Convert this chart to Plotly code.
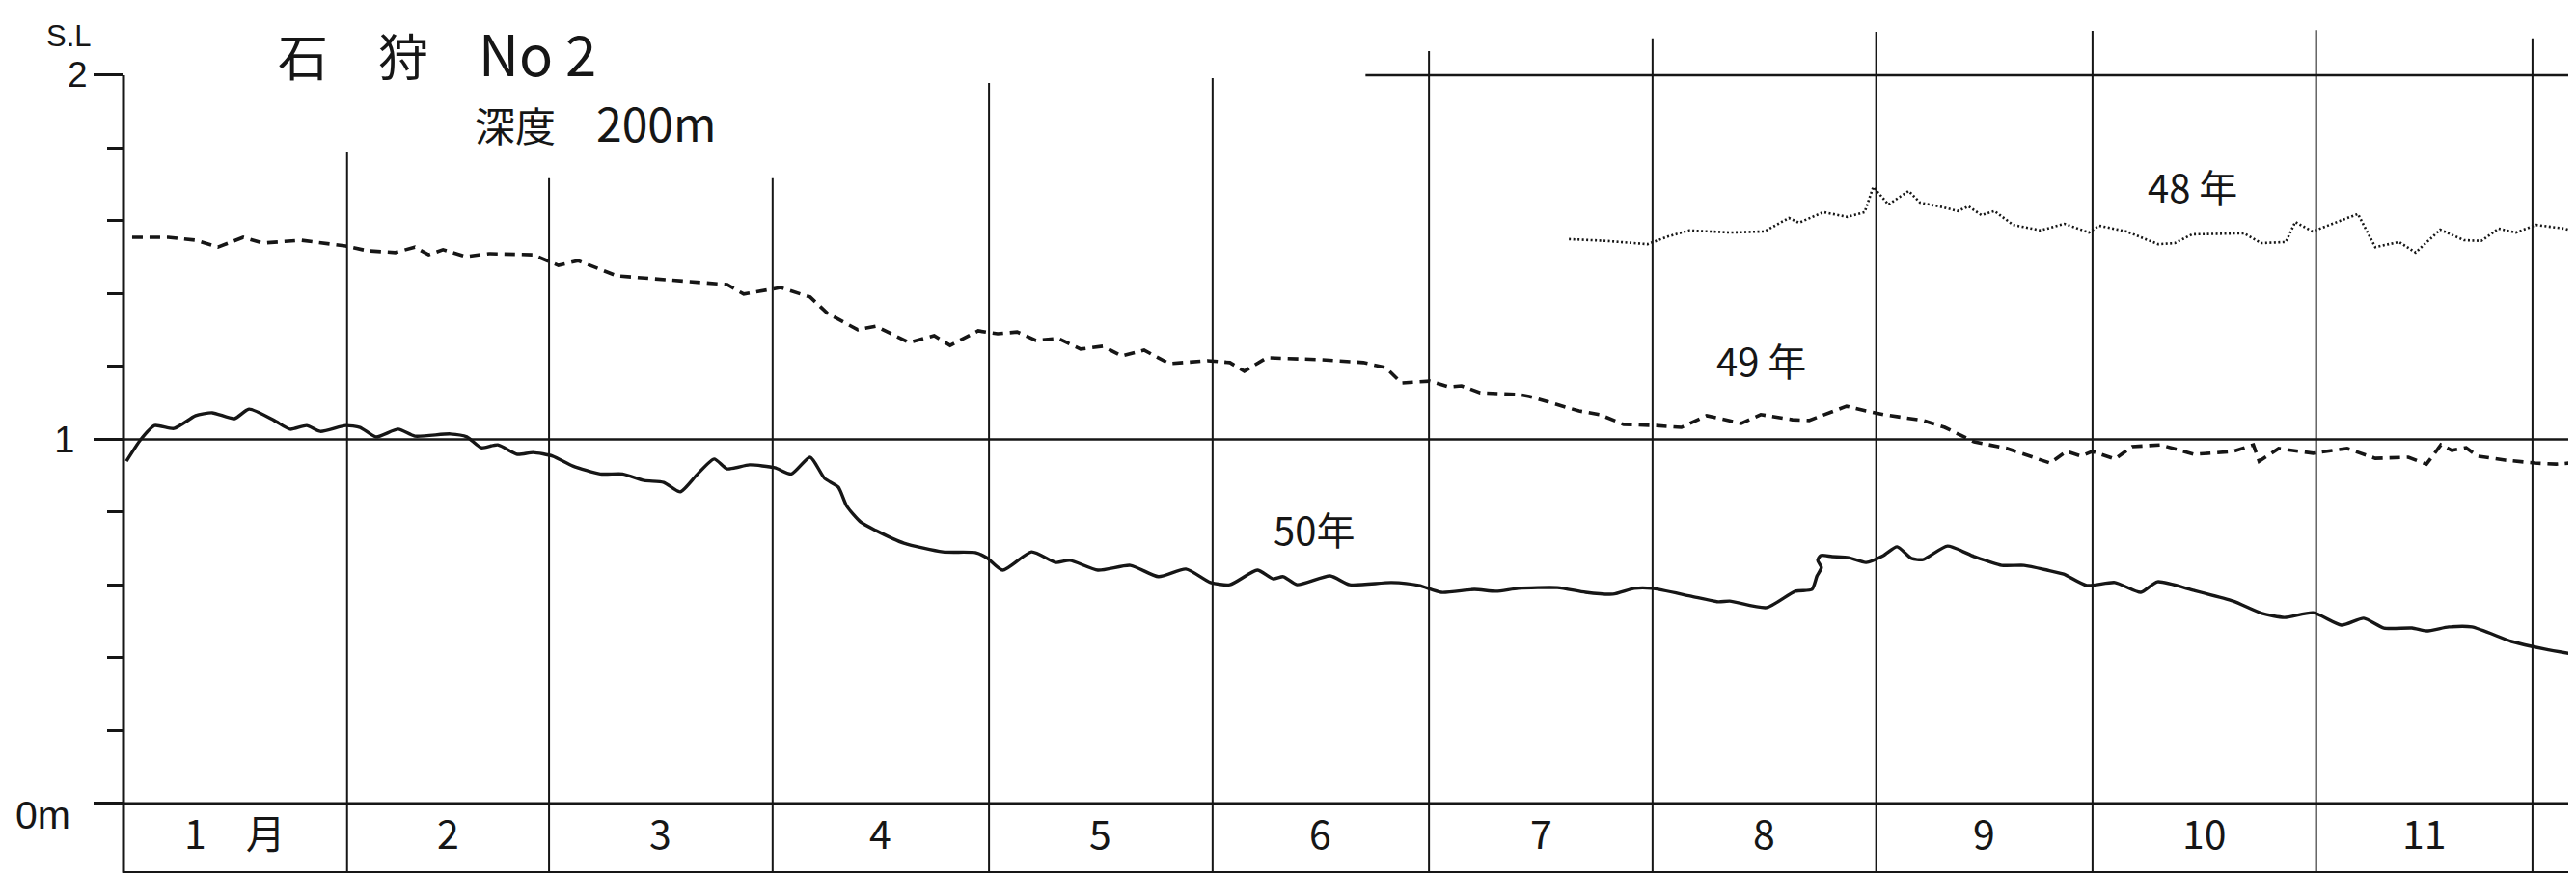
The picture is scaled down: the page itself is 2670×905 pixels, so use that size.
import plotly.graph_objects as go

# ---------------- data ----------------
month_labels = ["1　月", "2", "3", "4", "5", "6", "7", "8", "9", "10", "11", "12"]
month_start_day = [0, 31, 59, 90, 120, 151, 181, 212, 243, 273, 304, 334, 365]
# upper ends of the hand-drawn month dividers (in S.L metres)
month_line_top = [1.788, 1.717, 1.717, 1.979, 1.992, 2.066, 2.101, 2.119, 2.122, 2.124, 2.101]

# 50年 (solid)
day_50 = [0.4, 2.4, 4.3, 7.0, 10.0, 12.3, 15.4, 17.4, 20.9, 23.1, 25.4, 27.3, 30.8, 32.8, 35.0,
          38.1, 40.4, 45.3, 47.6, 49.6, 51.9, 54.6, 56.8, 59.5, 62.3, 66.1, 69.2, 72.2, 74.9,
          77.2, 79.6, 81.9, 83.7, 86.8, 90.3, 92.6, 95.2, 97.2, 99.1, 100.3, 102.2, 104.3,
          108.2, 113.6, 118.1, 119.7, 121.9, 125.9, 129.3, 131.2, 135.1, 139.6, 143.5, 147.3,
          150.7, 153.4, 157.2, 159.4, 160.8, 162.7, 167.3, 170.0, 175.8, 179.6, 182.7, 187.3,
          190.3, 193.4, 198.8, 202.7, 206.5, 209.5, 211.9, 217.2, 221.1, 222.7, 227.8, 231.8,
          234.1, 234.8, 235.4, 234.9, 235.3, 236.9, 239.2, 241.6, 244.0, 245.9, 247.9, 249.5,
          252.9, 256.6, 260.4, 263.5, 266.7, 269.0, 272.2, 276.1, 279.7, 282.0, 287.1, 292.5,
          296.5, 299.6, 303.6, 307.5, 310.6, 313.4, 317.3, 319.3, 322.4, 325.6, 331.1, 335.7,
          341.1]
sl_50 = [0.940, 1.000, 1.038, 1.030, 1.065, 1.073, 1.057, 1.083, 1.052, 1.028, 1.038, 1.022,
         1.038, 1.033, 1.007, 1.028, 1.009, 1.015, 1.007, 0.977, 0.985, 0.959, 0.964, 0.954,
         0.927, 0.905, 0.905, 0.887, 0.882, 0.856, 0.905, 0.946, 0.919, 0.930, 0.922, 0.905,
         0.951, 0.893, 0.869, 0.816, 0.773, 0.750,
         0.715, 0.691, 0.689, 0.675, 0.641, 0.691, 0.662, 0.668, 0.641, 0.654, 0.623, 0.644,
         0.607, 0.601, 0.641, 0.617, 0.623, 0.601, 0.625, 0.601, 0.607, 0.599, 0.580, 0.588,
         0.583, 0.591, 0.593, 0.580, 0.575, 0.591, 0.591, 0.570, 0.554, 0.556, 0.538, 0.583,
         0.588, 0.625, 0.648, 0.668, 0.681, 0.678, 0.675, 0.662, 0.681, 0.705, 0.673, 0.670,
         0.707, 0.678, 0.654, 0.654, 0.641, 0.630, 0.599, 0.607, 0.580, 0.609, 0.585, 0.556,
         0.522, 0.511, 0.524, 0.490, 0.509, 0.482, 0.482, 0.474, 0.485, 0.485, 0.445, 0.424,
         0.405]

# 49年 (dashed)
day_49 = [1.2, 6.2, 10.0, 13.1, 16.6, 19.3, 24.6, 30.8, 33.8, 37.7, 40.4, 42.3, 44.3, 47.4,
          50.7, 56.8, 60.3, 63.0, 68.4, 76.1, 83.7, 86.0, 91.1, 95.2, 97.6, 101.8, 104.3,
          108.9, 112.4, 114.6, 118.5, 121.2, 123.9, 126.5, 129.6, 132.7, 135.8, 138.4, 141.5,
          145.0, 150.3, 153.4, 155.4, 158.5, 165.7, 171.9, 175.0, 177.2, 181.1, 183.8, 185.5,
          188.1, 193.6, 194.9, 201.8, 204.7, 208.0, 212.5, 216.0, 219.5, 224.3, 227.0, 231.4,
          233.7, 238.9, 241.6, 244.0, 249.5, 252.5, 256.6, 261.2, 267.1, 269.4, 271.4, 273.0,
          276.1, 278.5, 282.4, 287.1, 292.5, 294.5, 295.3, 296.1, 298.8, 303.6, 308.3, 312.2,
          316.8, 319.3, 321.3, 322.8, 324.8, 326.4, 330.2, 334.3, 337.3, 341.1]
sl_49 = [1.555, 1.555, 1.547, 1.528, 1.555, 1.539, 1.547, 1.531, 1.518, 1.513, 1.528, 1.507,
         1.521, 1.502, 1.510, 1.507, 1.478, 1.491, 1.449, 1.436, 1.425, 1.399, 1.417, 1.391,
         1.346, 1.301, 1.311, 1.266, 1.285, 1.258, 1.298, 1.290, 1.295, 1.272, 1.277, 1.248,
         1.256, 1.229, 1.245, 1.208, 1.216, 1.211, 1.187, 1.224, 1.219, 1.211, 1.197, 1.155,
         1.160, 1.144, 1.147, 1.128, 1.123, 1.118, 1.078, 1.068, 1.041, 1.038, 1.033, 1.065,
         1.044, 1.068, 1.054, 1.052, 1.091, 1.078, 1.068, 1.052, 1.033, 0.993, 0.975, 0.935,
         0.967, 0.954, 0.967, 0.946, 0.980, 0.985, 0.959, 0.967, 0.980, 0.985, 0.940, 0.975,
         0.962, 0.975, 0.948, 0.951, 0.932, 0.985, 0.970, 0.977, 0.954, 0.943, 0.935, 0.932,
         0.938]

# 48年 (dotted)
day_48 = [200.4, 205.6, 211.3, 214.1, 217.1, 222.8, 227.5, 230.9, 232.3, 235.7, 239.0, 241.4,
          242.6, 244.7, 247.5, 249.1, 252.4, 254.3, 255.8, 257.6, 259.4, 262.0, 265.8, 269.1,
          272.5, 273.9, 277.7, 282.1, 284.4, 286.8, 294.0, 296.4, 299.8, 301.1, 303.5, 309.8,
          312.2, 315.5, 317.8, 321.2, 324.5, 326.9, 329.3, 331.7, 334.5, 338.4, 341.1]
sl_48 = [1.550, 1.545, 1.536, 1.557, 1.574, 1.568, 1.571, 1.608, 1.595, 1.624, 1.611, 1.624,
         1.693, 1.645, 1.682, 1.650, 1.637, 1.627, 1.640, 1.616, 1.627, 1.589, 1.574, 1.592,
         1.568, 1.587, 1.571, 1.536, 1.539, 1.563, 1.566, 1.539, 1.542, 1.597, 1.571, 1.619,
         1.528, 1.542, 1.513, 1.576, 1.547, 1.545, 1.579, 1.568, 1.589, 1.579, 1.563]

series_names = ["50年", "49 年", "48 年"]

y_tick_vals = [0, 1, 2]
y_tick_text = ["", "1", ""]
y_minor_vals = [0.2, 0.4, 0.6, 0.8, 1.2, 1.4, 1.6, 1.8]

# ---------------- figure ----------------
W, H = 2670, 905
ML, MR, MT, MB = 120, 0, 0, 5
PW, PH = W - ML - MR, H - MT - MB
X_RANGE = [0, 341.1]
Y_RANGE = [-0.1987, 2.1854]
FONT = "Noto Sans CJK JP"
LATIN = "Liberation Sans"
INK = "#161616"
CJK_SHIFT = 12  # Noto CJK glyphs sit low in their box


def px(xp):
    return (xp - ML) / PW


def py(yp):
    return 1 - (yp - MT) / PH


fig = go.Figure()
fig.add_trace(go.Scatter(x=day_50, y=sl_50, mode="lines", name=series_names[0],
                         line=dict(color=INK, width=3.4, shape="spline", smoothing=0.6)))
fig.add_trace(go.Scatter(x=day_49, y=sl_49, mode="lines", name=series_names[1],
                         line=dict(color=INK, width=3.6, dash="11px,7px")))
fig.add_trace(go.Scatter(x=day_48, y=sl_48, mode="lines", name=series_names[2],
                         line=dict(color=INK, width=2.6, dash="2px,2.5px")))

shapes = []
# month dividers
for d, top in zip(month_start_day[1:12], month_line_top):
    shapes.append(dict(type="line", xref="x", yref="y", x0=d, x1=d, y0=-0.19, y1=top,
                       line=dict(color=INK, width=2)))
# y axis line
shapes.append(dict(type="line", xref="x domain", yref="y", x0=0, x1=0, y0=-0.19, y1=2.0,
                   line=dict(color=INK, width=3)))
# reference levels
shapes.append(dict(type="line", xref="paper", yref="y", x0=px(92), x1=1, y0=0, y1=0,
                   line=dict(color=INK, width=3.2)))
shapes.append(dict(type="line", xref="paper", yref="y", x0=px(92), x1=1, y0=1, y1=1,
                   line=dict(color=INK, width=2.4)))
shapes.append(dict(type="line", xref="x", yref="y", x0=172.2, x1=X_RANGE[1], y0=2, y1=2,
                   line=dict(color=INK, width=2.6)))
# bottom of month label row
shapes.append(dict(type="line", xref="paper", yref="y", x0=0, x1=1, y0=-0.19, y1=-0.19,
                   line=dict(color=INK, width=3.2)))

annotations = []
# month labels
for i, lab in enumerate(month_labels):
    mid = (month_start_day[i] + month_start_day[i + 1]) / 2
    if mid > X_RANGE[1]:
        continue
    annotations.append(dict(x=mid, y=-0.109, xref="x", yref="y", text=lab, showarrow=False,
                            font=dict(family=FONT, size=41, color=INK), yshift=CJK_SHIFT,
                            xanchor="center", yanchor="middle"))
# series labels
for name, (lx, ly) in zip(series_names, [(165.0, 0.723), (227.0, 1.188), (286.8, 1.664)]):
    annotations.append(dict(x=lx, y=ly, xref="x", yref="y", text=name, showarrow=False,
                            font=dict(family=FONT, size=40, color=INK), yshift=CJK_SHIFT,
                            xanchor="center", yanchor="middle"))
# axis labels (paper positions)
for text, xp, yp, size in [("S.L", 63, 29, 31), ("2", 72, 69, 37), ("0m", 36, 837, 41)]:
    annotations.append(dict(x=px(xp), y=py(yp), xref="paper", yref="paper", text=text,
                            showarrow=False, font=dict(family=LATIN, size=size, color=INK),
                            xanchor="center", yanchor="middle"))
# titles
for text, xp, yp, size in [("石　狩　<span style='font-size:58px'>No 2</span>", 278, 58, 52),
                           ("深度　<span style='font-size:48px'>200m</span>", 482, 130, 42)]:
    annotations.append(dict(x=px(xp), y=py(yp), xref="paper", yref="paper", text=text,
                            showarrow=False, font=dict(family=FONT, size=size, color=INK),
                            yshift=CJK_SHIFT, xanchor="left", yanchor="middle"))

fig.update_layout(
    width=W, height=H,
    margin=dict(l=ML, r=MR, t=MT, b=MB, pad=0),
    paper_bgcolor="white", plot_bgcolor="white",
    showlegend=False,
    shapes=shapes, annotations=annotations,
    xaxis=dict(range=X_RANGE, showgrid=False, zeroline=False, showline=False,
               showticklabels=False, ticks="", fixedrange=True),
    yaxis=dict(range=Y_RANGE, showgrid=False, zeroline=False, showline=False,
               showticklabels=True, ticks="outside", tickmode="array",
               tickvals=y_tick_vals, ticktext=y_tick_text,
               tickfont=dict(family=LATIN, size=38, color=INK), ticklabelstandoff=12,
               ticklen=30, tickwidth=3, tickcolor=INK,
               minor=dict(tickmode="array", tickvals=y_minor_vals, ticks="outside",
                          ticklen=16, tickwidth=2.5, tickcolor=INK, showgrid=False),
               fixedrange=True),
)

fig.write_html("out.html")
